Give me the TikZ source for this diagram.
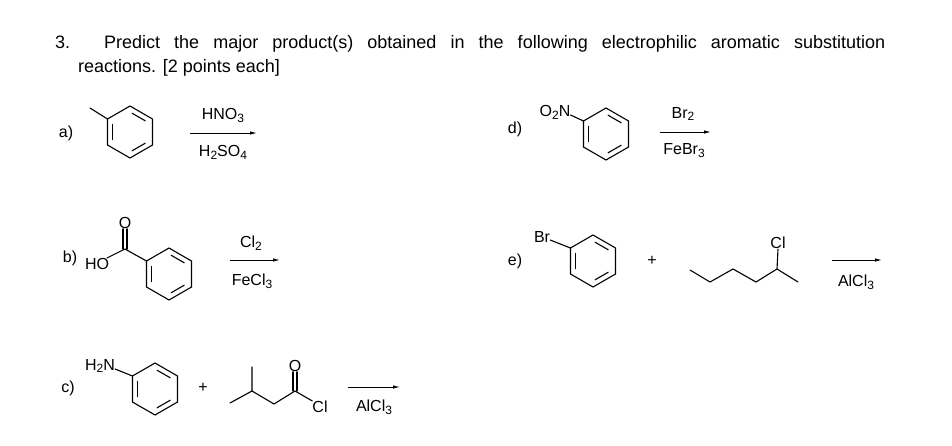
\documentclass[tikz,border=0pt]{standalone}
\usepackage{fontspec}
\setmainfont{Liberation Sans}
\usetikzlibrary{calc,arrows.meta}
\newcommand\chs[1]{\raisebox{-0.35ex}{\fontsize{12}{12}\selectfont #1}}
\tikzset{
  bond/.style={line width=1.1pt,line cap=round},
  lbl/.style={font=\fontsize{16}{18}\selectfont,inner sep=0pt},
  rxn/.style={line width=0.9pt,-{Latex[length=7pt,width=3.5pt]}},
  benz/.pic={
    \def\R{26pt}\def\r{20pt}
    \draw[bond] (90:\R) -- (30:\R) -- (-30:\R) -- (-90:\R) -- (-150:\R) -- (150:\R) -- cycle;
    \foreach \a/\b in {150/210,30/90,270/330}
      \draw[bond] ($(\a:\r)!0.12!(\b:\r)$) -- ($(\a:\r)!0.88!(\b:\r)$);
    \coordinate (-ul) at (150:\R);
  }
}
\begin{document}
\begin{tikzpicture}[x=1pt,y=-1pt]
\fill[white] (0,0) rectangle (952,445);
\useasboundingbox (0,0) rectangle (952,445);
\node[anchor=base west,inner sep=0pt,font=\fontsize{18}{20}\selectfont] (t1) at (55,48)
 {\makebox[830pt][s]{3. Predict the major product(s) obtained in the following electrophilic aromatic substitution}};
\node[anchor=base west,inner sep=0pt,font=\fontsize{18}{20}\selectfont] (t2) at (78,72) {reactions. [2 points each]};
% a
\node[lbl] (la) at (66,133) {a)};
\pic (ra) at (130,132) {benz};
\coordinate (me) at (90,108);
\draw[bond] (me) -- (ra-ul);
\coordinate (a1) at (190,133); \coordinate (a2) at (257,133);
\draw[rxn] (a1) -- (a2);
\node[lbl] (ha) at (223,115) {HNO\chs{3}};
\node[lbl] (sa) at (223,152) {H\chs{2}SO\chs{4}};
% b
\node[lbl] (lb) at (70,258) {b)};
\pic (rb) at (169,274) {benz};
\node[lbl] (ho) at (97,264) {HO};
\coordinate (cb) at (125,249);
\node[lbl] (ob) at (125,223) {O};
\coordinate (hoe) at (107,258);
\draw[bond] (hoe) -- (cb) -- (rb-ul);
\draw[bond] ([xshift=-2pt]cb) -- ([xshift=-2pt]ob.south);
\draw[bond] ([xshift=2pt]cb) -- ([xshift=2pt]ob.south);
\coordinate (b1) at (230,260); \coordinate (b2) at (280,260);
\draw[rxn] (b1) -- (b2);
\node[lbl] (cl2) at (251,243) {Cl\chs{2}};
\node[lbl] (fecl) at (252,281) {FeCl\chs{3}};
% c
\node[lbl] (lc) at (68,388) {c)};
\pic (rc) at (155,389) {benz};
\node[lbl] (nh) at (100,366) {H\chs{2}N};
\draw[bond] (nh.east) ++(0,3) coordinate (nhe) -- (rc-ul);
\node[lbl] (pc) at (203,388) {+};
\coordinate (c1) at (230,403); \coordinate (c2) at (252,391);
\coordinate (c3) at (252,367); \coordinate (c4) at (274,404);
\coordinate (c5) at (295,391);
\node[lbl] (oc) at (295,366) {O};
\node[lbl] (clc) at (320,407) {Cl};
\draw[bond] (c1) -- (c2) -- (c3);
\draw[bond] (c2) -- (c4) -- (c5) -- (clc.north west);
\draw[bond] ([xshift=-2pt]c5) -- ([xshift=-2pt]oc.south);
\draw[bond] ([xshift=2pt]c5) -- ([xshift=2pt]oc.south);
\coordinate (cc1) at (348,387); \coordinate (cc2) at (400,387);
\draw[rxn] (cc1) -- (cc2);
\node[lbl] (alc) at (374,407) {AlCl\chs{3}};
% d
\node[lbl] (ld) at (515,129) {d)};
\pic (rd) at (606,134) {benz};
\node[lbl] (no) at (555,112) {O\chs{2}N};
\draw[bond] (no.east) ++(0,3) coordinate (noe) -- (rd-ul);
\coordinate (d1) at (660,132); \coordinate (d2) at (711,132);
\draw[rxn] (d1) -- (d2);
\node[lbl] (br2) at (683,114) {Br\chs{2}};
\node[lbl] (febr) at (684,151) {FeBr\chs{3}};
% e
\node[lbl] (le) at (515,261) {e)};
\pic (re) at (593,261) {benz};
\node[lbl] (bre) at (542,237) {Br};
\draw[bond] (bre.east) ++(0,3) coordinate (bree) -- (re-ul);
\node[lbl] (pe) at (652,261) {+};
\coordinate (e1) at (690,270); \coordinate (e2) at (710,282);
\coordinate (e3) at (733,269); \coordinate (e4) at (756,282);
\coordinate (e5) at (777,269); \coordinate (e6) at (798,282);
\node[lbl] (cle) at (778,243) {Cl};
\draw[bond] (e1) -- (e2) -- (e3) -- (e4) -- (e5) -- (e6);
\draw[bond] (e5) -- (cle.south);
\coordinate (f1) at (832,260); \coordinate (f2) at (882,260);
\draw[rxn] (f1) -- (f2);
\node[lbl] (ale) at (856,282) {AlCl\chs{3}};
\end{tikzpicture}
\end{document}
